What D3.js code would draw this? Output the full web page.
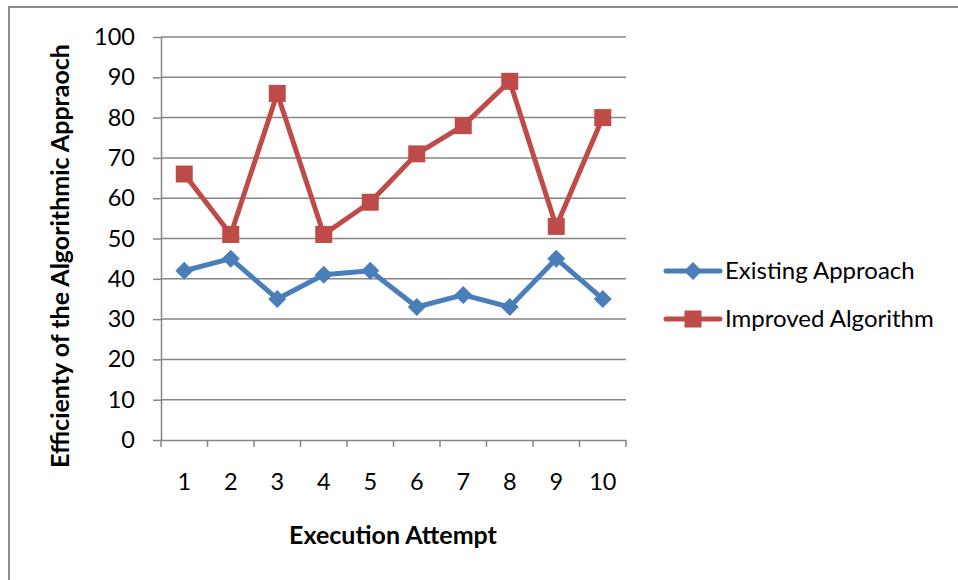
<!DOCTYPE html>
<html>
<head>
<meta charset="utf-8">
<script src="https://cdn.jsdelivr.net/npm/d3@7"></script>
<style>
  html, body { margin: 0; padding: 0; background: #fff; }
  svg { display: block; font-family: Lato, "Open Sans", sans-serif; }
</style>
</head>
<body>
<svg id="chart" width="958" height="580"></svg>
<script>
// Execution attempts and efficiency of each approach
const attempts = ["1", "2", "3", "4", "5", "6", "7", "8", "9", "10"];
const existingApproach = [42, 45, 35, 41, 42, 33, 36, 33, 45, 35];
const improvedAlgorithm = [66, 51, 86, 51, 59, 71, 78, 89, 53, 80];
const yTicks = [0, 10, 20, 30, 40, 50, 60, 70, 80, 90, 100];
const seriesNames = ["Existing Approach", "Improved Algorithm"];

const W = 958, H = 580;
const plot = { left: 161, right: 626, top: 37, bottom: 440 };
const colors = { existing: "#4A7EBB", improved: "#BE4B48", grid: "#868686", frame: "#8c8c8c" };
const font = "Lato, 'Open Sans', sans-serif";

const svg = d3.select("#chart");

// outer chart frame (top and left edges visible)
svg.append("rect")
  .attr("x", 9).attr("y", 7)
  .attr("width", W + 20).attr("height", H + 20)
  .attr("fill", "none").attr("stroke", colors.frame).attr("stroke-width", 2);

const x = d3.scaleBand().domain(attempts).range([plot.left, plot.right]).padding(0);
const y = d3.scaleLinear().domain([0, 100]).range([plot.bottom, plot.top]);

// horizontal gridlines
svg.append("g").selectAll("line").data(yTicks.filter(d => d > 0)).join("line")
  .attr("x1", plot.left).attr("x2", plot.right)
  .attr("y1", d => y(d)).attr("y2", d => y(d))
  .attr("stroke", colors.grid).attr("stroke-width", 1.5);

// y axis
const yAxis = svg.append("g").attr("transform", `translate(${plot.left},0)`)
  .call(d3.axisLeft(y).tickValues(yTicks).tickSize(8).tickPadding(10).tickSizeOuter(0));
yAxis.select(".domain").attr("stroke", colors.grid).attr("stroke-width", 1.5);
yAxis.selectAll(".tick line").attr("stroke", colors.grid).attr("stroke-width", 1.5);
yAxis.selectAll(".tick text").attr("font-size", 23.5).attr("fill", "#000")
  .attr("font-family", font).attr("dx", "-8");

// x axis with ticks at category boundaries
const xAxis = svg.append("g").attr("transform", `translate(0,${plot.bottom})`)
  .call(d3.axisBottom(x).tickSize(0).tickPadding(33));
xAxis.select(".domain").attr("stroke", colors.grid).attr("stroke-width", 1.5);
xAxis.selectAll(".tick text").attr("font-size", 23.5).attr("fill", "#000")
  .attr("font-family", font);
const boundaries = attempts.map(a => x(a)).concat([plot.right]);
xAxis.append("g").selectAll("line").data(boundaries).join("line")
  .attr("x1", d => d).attr("x2", d => d).attr("y1", 0).attr("y2", 7)
  .attr("stroke", colors.grid).attr("stroke-width", 1.5);

const cx = (d, i) => x(attempts[i]) + x.bandwidth() / 2;
const line = d3.line().x(cx).y(d => y(d));

// series lines
svg.append("path").datum(existingApproach).attr("d", line)
  .attr("fill", "none").attr("stroke", colors.existing).attr("stroke-width", 5).attr("stroke-linejoin", "round");
svg.append("path").datum(improvedAlgorithm).attr("d", line)
  .attr("fill", "none").attr("stroke", colors.improved).attr("stroke-width", 5).attr("stroke-linejoin", "round");

// markers
svg.append("g").selectAll("path").data(existingApproach).join("path")
  .attr("transform", (d, i) => `translate(${cx(d, i)},${y(d)})`)
  .attr("d", "M0,-9L9,0L0,9L-9,0Z").attr("fill", colors.existing);
svg.append("g").selectAll("rect").data(improvedAlgorithm).join("rect")
  .attr("x", (d, i) => cx(d, i) - 8.5).attr("y", d => y(d) - 8.5)
  .attr("width", 17).attr("height", 17).attr("fill", colors.improved);

// axis titles
svg.append("text")
  .attr("transform", `translate(69,256) rotate(-90)`)
  .attr("text-anchor", "middle").attr("font-size", 25).attr("font-weight", "bold")
  .attr("font-family", font)
  .text("Efficienty of the Algorithmic Appraoch");
svg.append("text")
  .attr("x", 393).attr("y", 544)
  .attr("text-anchor", "middle").attr("font-size", 25).attr("font-weight", "bold")
  .attr("font-family", font)
  .text("Execution Attempt");

// legend
const legend = svg.append("g");
const legendItems = [
  { name: seriesNames[0], color: colors.existing, y: 271, shape: "diamond" },
  { name: seriesNames[1], color: colors.improved, y: 319, shape: "square" }
];
legendItems.forEach(it => {
  const g = legend.append("g").attr("transform", `translate(0,${it.y})`);
  g.append("line").attr("x1", 666).attr("x2", 720).attr("y1", 0).attr("y2", 0)
    .attr("stroke", it.color).attr("stroke-width", 5).attr("stroke-linecap", "round");
  if (it.shape === "diamond") {
    g.append("path").attr("d", "M693,-9L702,0L693,9L684,0Z").attr("fill", it.color);
  } else {
    g.append("rect").attr("x", 684.5).attr("y", -8.5).attr("width", 17).attr("height", 17).attr("fill", it.color);
  }
  g.append("text").attr("x", 725).attr("y", 8).attr("font-size", 24)
    .attr("font-family", font).attr("fill", "#000")
    .text(it.name);
});
</script>
</body>
</html>
